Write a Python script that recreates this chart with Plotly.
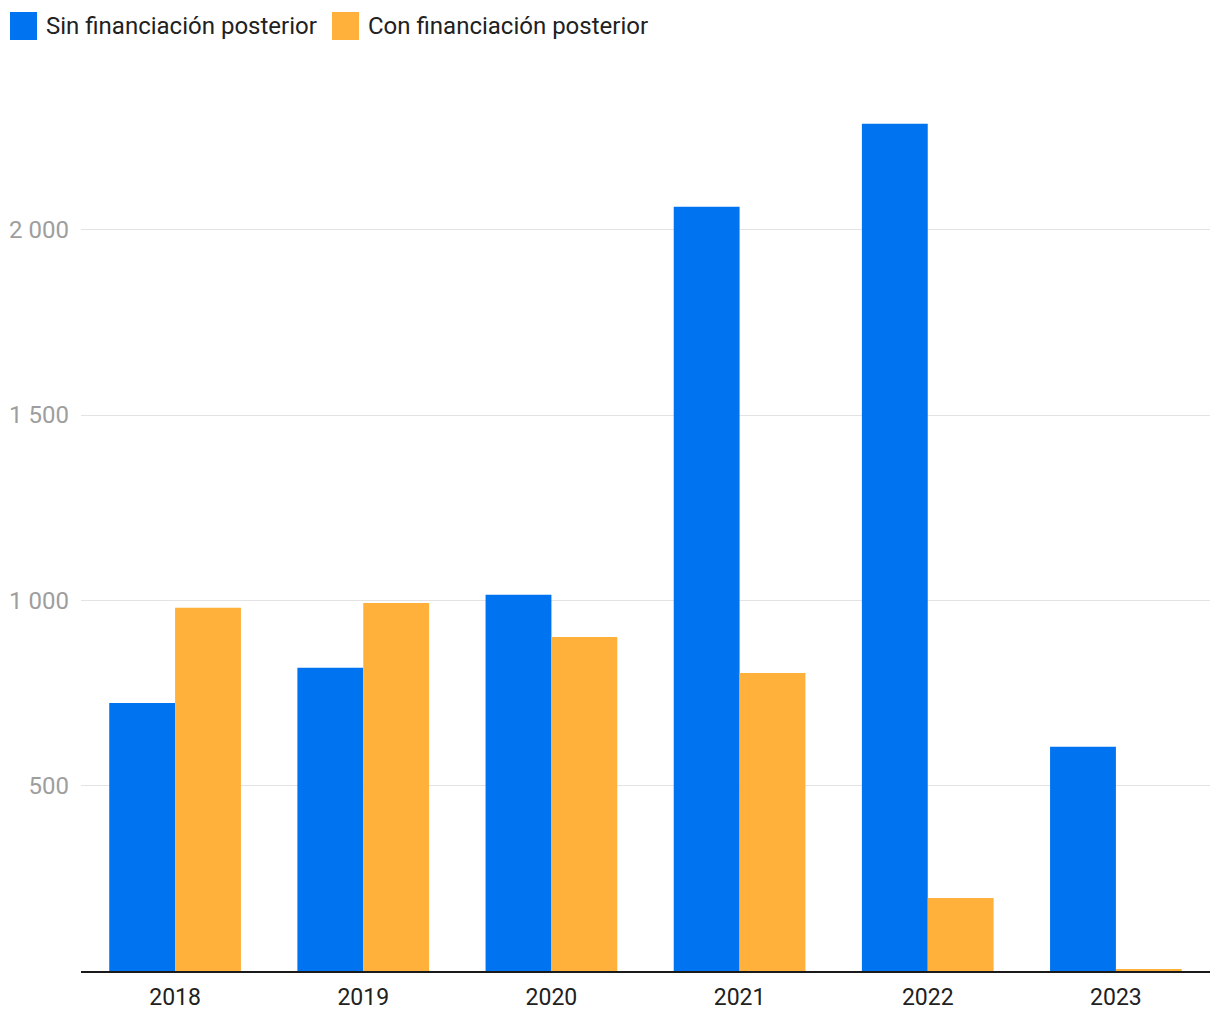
import plotly.graph_objects as go

years = ["2018", "2019", "2020", "2021", "2022", "2023"]
series_names = ["Sin financiación posterior", "Con financiación posterior"]
sin_fin = [723, 818, 1015, 2062, 2286, 605]
con_fin = [980, 993, 901, 804, 197, 5]
colors = ["#0073F0", "#FFB13B"]
y_ticks = [500, 1000, 1500, 2000]

# page has 8px body margin
OFF = 8
L, R, T, B = 81 - OFF, 10, 63 - OFF, 49
W, H = 1220 - OFF, 1020 - OFF
PW = W - L - R
PH = H - T - B

fig = go.Figure()
for name, vals, col in zip(series_names, [sin_fin, con_fin], colors):
    fig.add_trace(go.Bar(x=years, y=vals, name=name, marker_color=col,
                         marker_line_width=0, showlegend=False))

# custom legend (large square swatches), positions in page pixels
legend_x = [10, 332]
for i, (name, col) in enumerate(zip(series_names, colors)):
    x0 = legend_x[i]
    fig.add_shape(type="rect", xref="paper", yref="paper",
                  x0=(x0 - 81) / PW, x1=(x0 + 27 - 81) / PW,
                  y0=(971 - 40) / PH, y1=(971 - 12) / PH,
                  fillcolor=col, line_width=0)
    fig.add_annotation(xref="paper", yref="paper", x=(x0 + 34 - 81) / PW,
                       y=(971 - 26) / PH, text=name, showarrow=False,
                       xanchor="left", yanchor="middle",
                       font=dict(size=24, color="#212121", family="Roboto"))

fig.update_layout(
    width=W, height=H,
    margin=dict(l=L, r=R, t=T, b=B, autoexpand=False),
    plot_bgcolor="white", paper_bgcolor="white",
    barmode="group", bargap=0.30, bargroupgap=0,
    separators=", ",
    font=dict(family="Roboto", size=23, color="#212121"),
    xaxis=dict(showline=True, linecolor="#1a1a1a", linewidth=2,
               tickfont=dict(size=23, color="#212121"), ticks="",
               ticklabelstandoff=4, automargin=False),
    yaxis=dict(range=[0, 2450], tickvals=y_ticks, tickformat=",d",
               showgrid=True, gridcolor="#e3e3e3", gridwidth=1,
               zeroline=False, tickfont=dict(size=24, color="#9e9e9e"),
               ticklabelstandoff=11, automargin=False),
)

fig.write_html("out.html")
